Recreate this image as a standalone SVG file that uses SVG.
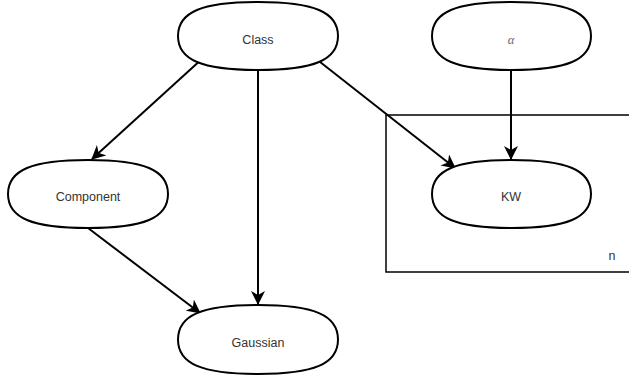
<svg xmlns="http://www.w3.org/2000/svg" width="629" height="378" viewBox="0 0 629 378">
<style>
.node path{fill:#fff;stroke:#000;stroke-width:2}
text{font-family:"Liberation Sans",Arial,sans-serif;font-size:12.5px;fill:#333;text-anchor:middle;dominant-baseline:central}
.edge{stroke:#000;stroke-width:2;fill:none;marker-end:url(#ah)}
.plate{fill:none;stroke:#000;stroke-width:1.5}
</style>
<defs>
<marker id="ah" markerWidth="16" markerHeight="14" refX="13" refY="7" orient="auto" markerUnits="userSpaceOnUse">
<path d="M0,0 L14,7 L0,14 L4,7 Z" fill="#000"/>
</marker>
</defs>
<g id="plate">
<rect class="plate" x="386" y="115" width="260" height="157"/>
<text x="612" y="256">n</text>
</g>
<g id="connectors">
<line class="edge" x1="203" y1="58" x2="92" y2="159"/>
<line class="edge" x1="258" y1="70" x2="258" y2="304"/>
<line class="edge" x1="315" y1="58" x2="455" y2="168"/>
<line class="edge" x1="511" y1="70" x2="511" y2="159"/>
<line class="edge" x1="88" y1="228" x2="200" y2="313"/>
</g>
<g id="Class" class="node"><path d="M178,36 C178,12 202,2 258,2 C314,2 338,12 338,36 C338,60 314,70 258,70 C202,70 178,60 178,36 Z"/><text x="258" y="40">Class</text></g>
<g id="alpha" class="node"><path d="M432,36 C432,12 456,2 511.5,2 C567,2 591,12 591,36 C591,60 567,70 511.5,70 C456,70 432,60 432,36 Z"/><text x="511" y="40" style="font-family:'Liberation Serif','DejaVu Serif',serif;font-style:italic;fill:#666">α</text></g>
<g id="Component" class="node"><path d="M8,194 C8,170 32,160 88,160 C144,160 168,170 168,194 C168,218 144,228 88,228 C32,228 8,218 8,194 Z"/><text x="88" y="197">Component</text></g>
<g id="KW" class="node"><path d="M432,194 C432,170 456,160 511.5,160 C567,160 591,170 591,194 C591,218 567,228 511.5,228 C456,228 432,218 432,194 Z"/><text x="511" y="197">KW</text></g>
<g id="Gaussian" class="node"><path d="M178,339.5 C178,315 202,305 258,305 C314,305 338,315 338,339.5 C338,364 314,374 258,374 C202,374 178,364 178,339.5 Z"/><text x="258" y="343">Gaussian</text></g>
</svg>
